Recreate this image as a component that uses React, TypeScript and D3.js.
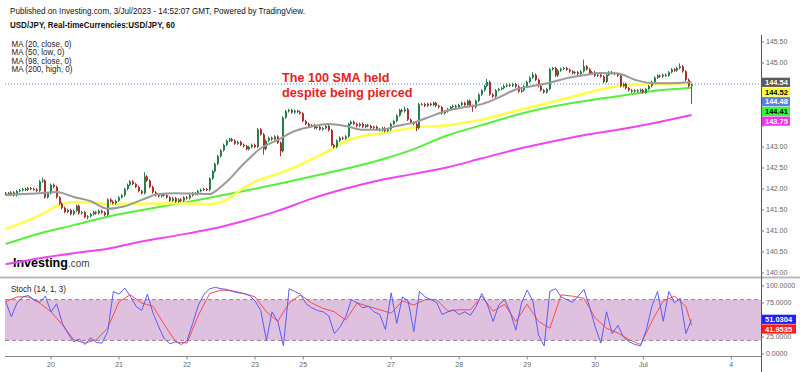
import React, { useEffect, useRef } from 'react';
import * as d3 from 'd3';

// hourly USD/JPY closes, bar 0 = Jun 19 08:00 (NY time)
const closes = [
  141.90, 141.86, 141.92, 141.85, 141.95, 141.97, 142.00, 141.98, 142.02, 142.00,
  141.99, 141.96, 142.18, 142.20, 141.80, 141.90, 142.10, 142.05, 141.80, 141.65,
  141.55, 141.45, 141.50, 141.40, 141.48, 141.60, 141.42, 141.45, 141.33, 141.35,
  141.40, 141.45, 141.42, 141.48, 141.44, 141.38, 141.75, 141.70, 141.66, 141.72,
  141.80, 141.85, 142.00, 142.10, 142.18, 142.12, 142.05, 141.95, 141.90, 142.30,
  142.20, 142.05, 141.92, 141.85, 141.83, 141.87, 141.85, 141.80, 141.72, 141.78,
  141.70, 141.75, 141.72, 141.80, 141.78, 141.85, 141.90, 141.88, 141.95, 141.98,
  142.00, 141.98, 142.25, 142.42, 142.60, 142.78, 142.92, 143.05, 143.15, 143.19,
  143.15, 143.08, 143.12, 143.05, 143.02, 142.95, 143.00, 143.05, 143.00, 143.42,
  143.30, 142.95, 143.15, 143.22, 143.18, 143.25, 143.10, 142.90, 143.70, 143.85,
  143.88, 143.82, 143.86, 143.84, 143.80, 143.62, 143.55, 143.50, 143.52, 143.45,
  143.48, 143.42, 143.45, 143.50, 143.40, 143.05, 143.00, 143.15, 143.22, 143.20,
  143.25, 143.55, 143.60, 143.55, 143.50, 143.55, 143.48, 143.52, 143.50, 143.45,
  143.48, 143.42, 143.40, 143.45, 143.38, 143.42, 143.55, 143.62, 143.75, 143.88,
  143.85, 143.90, 143.65, 143.58, 143.55, 143.45, 144.02, 144.02, 143.98, 144.03,
  144.00, 144.05, 143.98, 143.95, 143.80, 143.85, 143.90, 143.95, 143.98, 143.95,
  144.00, 144.05, 144.00, 144.10, 143.98, 143.95, 144.10, 144.25, 144.35, 144.45,
  144.55, 144.25, 144.20, 144.35, 144.38, 144.40, 144.45, 144.48, 144.46, 144.50,
  144.44, 144.32, 144.35, 144.45, 144.55, 144.65, 144.72, 144.60, 144.45, 144.35,
  144.30, 144.38, 144.85, 144.88, 144.70, 144.82, 144.86, 144.88, 144.84, 144.80,
  144.76, 144.78, 144.74, 144.80, 144.92, 144.85, 144.75, 144.78, 144.70, 144.72,
  144.68, 144.55, 144.72, 144.78, 144.76, 144.74, 144.70, 144.45, 144.50, 144.40,
  144.35, 144.32, 144.35, 144.33, 144.36, 144.30, 144.38, 144.45, 144.55, 144.65,
  144.70, 144.68, 144.72, 144.70, 144.78, 144.85, 144.82, 144.88, 144.92, 144.80,
  144.60, 144.45, 144.48,
];
const firstOpen = 141.88;
// bars with a visibly long wick: [bar, price]
const wickHighs = [[13, 142.27], [49, 142.40], [141, 143.96], [170, 144.62], [186, 144.78], [204, 145.08], [238, 144.99]];
const wickLows = [[29, 141.28], [91, 142.82], [97, 142.78], [145, 143.38], [165, 143.84], [242, 144.02]];

// moving averages at these bars
const ma20Idx = [0, 6, 12, 18, 24, 30, 36, 42, 48, 54, 60, 66, 72, 75, 78, 84, 90, 96, 102, 108, 114, 120, 126, 132, 138, 144, 150, 156, 162, 168, 174, 180, 186, 192, 198, 204, 210, 216, 222, 228, 234, 242];
const ma20Vals = [141.86, 141.88, 141.90, 141.93, 141.81, 141.71, 141.53, 141.59, 141.74, 141.88, 141.90, 141.89, 141.88, 142.00, 142.17, 142.60, 142.97, 143.17, 143.38, 143.49, 143.55, 143.50, 143.41, 143.41, 143.50, 143.58, 143.73, 143.87, 143.95, 144.02, 144.18, 144.37, 144.45, 144.53, 144.64, 144.71, 144.76, 144.75, 144.60, 144.52, 144.52, 144.54];
const ma50Idx = [0, 6, 12, 18, 24, 30, 36, 48, 60, 72, 78, 84, 90, 96, 102, 108, 114, 120, 126, 132, 138, 144, 156, 168, 180, 192, 204, 216, 228, 242];
const ma50Vals = [141.05, 141.20, 141.37, 141.59, 141.69, 141.68, 141.64, 141.65, 141.66, 141.64, 141.74, 142.03, 142.23, 142.36, 142.52, 142.71, 142.91, 143.14, 143.26, 143.32, 143.40, 143.46, 143.52, 143.65, 143.86, 144.06, 144.27, 144.45, 144.50, 144.52];
const ma98Idx = [0, 12, 24, 36, 48, 60, 72, 84, 96, 108, 120, 132, 144, 156, 168, 180, 192, 204, 216, 228, 242];
const ma98Vals = [140.69, 140.94, 141.14, 141.34, 141.50, 141.64, 141.79, 141.95, 142.12, 142.30, 142.48, 142.69, 142.95, 143.28, 143.52, 143.76, 143.95, 144.09, 144.21, 144.33, 144.41];
const ma200Idx = [0, 12, 24, 36, 48, 60, 72, 84, 96, 108, 120, 132, 144, 156, 168, 180, 192, 204, 216, 228, 242];
const ma200Vals = [140.21, 140.35, 140.47, 140.58, 140.75, 140.89, 141.04, 141.24, 141.48, 141.77, 142.01, 142.21, 142.36, 142.52, 142.73, 142.94, 143.12, 143.28, 143.41, 143.56, 143.76];

// stochastic %K every 2 bars, %D every 4 bars (+ last bar)
const stochK = [
  77, 55, 75, 84, 86, 80, 76, 85, 62, 74,
  45, 30, 18, 22, 14, 24, 17, 16, 33, 92,
  88, 97, 85, 70, 64, 88, 60, 40, 22, 15,
  18, 14, 20, 45, 72, 88, 96, 98, 96, 95,
  92, 90, 89, 86, 78, 64, 20, 62, 48, 12,
  96, 92, 88, 74, 68, 64, 62, 56, 30, 40,
  55, 80, 75, 68, 70, 62, 58, 36, 90, 45,
  84, 78, 33, 92, 84, 80, 76, 58, 62, 65,
  58, 62, 57, 70, 89, 72, 48, 72, 80, 62,
  35, 75, 94, 78, 28, 12, 92, 96, 84, 80,
  76, 85, 95, 70, 40, 16, 62, 30, 42, 25,
  18, 14, 12, 35, 70, 92, 48, 92, 75, 82,
  30, 51.03,
];
const stochD = [
  77, 84, 84, 75, 62, 43, 21, 16, 21, 38,
  77, 87, 75, 70, 43, 18, 16, 57, 89, 94,
  93, 89, 84, 62, 48, 75, 87, 75, 67, 62,
  50, 75, 70, 65, 60, 78, 72, 80, 80, 63,
  65, 65, 85, 63, 73, 48, 73, 48, 38, 87,
  85, 82, 53, 38, 31, 21, 14, 48, 78, 85,
  70, 41.95,
];

const dayLabels = ['20', '21', '22', '23', '25', '27', '28', '29', '30', 'Jul', '4'];
const dayBars = [16, 40, 64, 88, 105, 136, 160, 184, 208, 225, 256];
const stochTicks = [100, 75, 25, 0];

const lastPrice = 144.50;
const priceTags = [
  { text: '144.54', value: 144.54, bg: '#5a5a5a', fg: '#ffffff' },
  { text: '144.52', value: 144.52, bg: '#ffff3c', fg: '#000000' },
  { text: '144.48', value: 144.48, bg: '#5b7fe0', fg: '#ffffff' },
  { text: '144.41', value: 144.41, bg: '#33ff33', fg: '#000000' },
  { text: '143.75', value: 143.75, bg: '#ee33ee', fg: '#ffffff' },
];
const stochTags = [
  { text: '51.0304', value: 51.03, bg: '#1f1fff', fg: '#ffffff' },
  { text: '41.9535', value: 41.95, bg: '#ff1c1c', fg: '#ffffff' },
];

const FONT = "Arial, 'Liberation Sans', sans-serif";

export default function App() {
  const ref = useRef<SVGSVGElement>(null);

  useEffect(() => {
    const svg = d3.select(ref.current);
    svg.selectAll('*').remove();

    const x = d3.scaleLinear().domain([-2, 266.5]).range([0, 761]);
    const yP = d3.scaleLinear().domain([140, 145.5]).range([273, 42]);
    const yS = d3.scaleLinear().domain([0, 100]).range([354, 286]);
    const axisX = 761;

    const defs = svg.append('defs');
    defs.append('clipPath').attr('id', 'clipMain').append('rect')
      .attr('x', 5).attr('y', 30).attr('width', axisX - 5).attr('height', 246);
    defs.append('clipPath').attr('id', 'clipStoch').append('rect')
      .attr('x', 5).attr('y', 279).attr('width', axisX - 5).attr('height', 77);

    svg.append('rect').attr('width', 800).attr('height', 372).attr('fill', '#ffffff');

    // header texts
    svg.append('text').attr('x', 10).attr('y', 14).attr('font-size', 9).attr('fill', '#111')
      .attr('textLength', 295).attr('lengthAdjust', 'spacingAndGlyphs')
      .text('Published on Investing.com, 3/Jul/2023 - 14:52:07 GMT, Powered by TradingView.');
    svg.append('text').attr('x', 10).attr('y', 27.5).attr('font-size', 8.5).attr('font-weight', 'bold').attr('fill', '#111')
      .attr('textLength', 165).attr('lengthAdjust', 'spacingAndGlyphs')
      .text('USD/JPY, Real-timeCurrencies:USD/JPY, 60');
    const legend = ['MA (20, close, 0)', 'MA (50, low, 0)', 'MA (98, close, 0)', 'MA (200, high, 0)'];
    const legendW = [60, 53, 60, 61];
    legend.forEach((t, i) => {
      svg.append('text').attr('x', 11.5).attr('y', 46.5 + i * 8.6).attr('font-size', 8.5).attr('fill', '#222')
        .attr('textLength', legendW[i]).attr('lengthAdjust', 'spacingAndGlyphs').text(t);
    });

    // logo: one text, two spans
    const logo = svg.append('text').attr('x', 13).attr('y', 267);
    logo.append('tspan').attr('font-size', 12.5).attr('font-weight', 900).attr('fill', '#000').text('Investing');
    logo.append('tspan').attr('font-size', 10).attr('fill', '#444').text('.com');

    // price pane
    const main = svg.append('g').attr('clip-path', 'url(#clipMain)');

    main.append('line').attr('x1', 5).attr('x2', axisX).attr('y1', yP(lastPrice)).attr('y2', yP(lastPrice))
      .attr('stroke', '#5b7fe0').attr('stroke-width', 1).attr('stroke-dasharray', '1,2');

    const drawMa = (idx: number[], vals: number[], color: string, w: number) => {
      main.append('path')
        .attr('d', d3.line<number>().x((d) => x(d)).y((d, i) => yP(vals[i])).curve(d3.curveMonotoneX)(idx))
        .attr('fill', 'none').attr('stroke', color).attr('stroke-width', w);
    };
    drawMa(ma200Idx, ma200Vals, '#f044f0', 2);
    drawMa(ma98Idx, ma98Vals, '#55f03a', 2);
    drawMa(ma50Idx, ma50Vals, '#ffff4a', 2.5);

    const hiMap = new Map(wickHighs.map((d) => [d[0], d[1]]));
    const loMap = new Map(wickLows.map((d) => [d[0], d[1]]));
    const candles = main.append('g');
    closes.forEach((c, i) => {
      const o = i === 0 ? firstOpen : closes[i - 1];
      const hi = hiMap.get(i) ?? Math.max(o, c) + 0.03;
      const lo = loMap.get(i) ?? Math.min(o, c) - 0.03;
      const col = c >= o ? '#2b7d4b' : '#a8322d';
      const cx = Math.round(x(i));
      candles.append('rect').attr('x', cx - 1).attr('width', 1)
        .attr('y', yP(hi)).attr('height', yP(lo) - yP(hi)).attr('fill', col);
      const top = yP(Math.max(o, c));
      const h = Math.max(1, yP(Math.min(o, c)) - top);
      candles.append('rect').attr('x', cx - 1).attr('width', 2)
        .attr('y', top).attr('height', h).attr('fill', col);
    });

    drawMa(ma20Idx, ma20Vals, '#9a9a9a', 2);

    // annotation
    svg.append('text').attr('x', 282).attr('y', 82).attr('font-size', 13).attr('font-weight', 'bold').attr('fill', '#e8231f')
      .attr('textLength', 107.6).attr('lengthAdjust', 'spacingAndGlyphs').text('The 100 SMA held');
    svg.append('text').attr('x', 282).attr('y', 97).attr('font-size', 13).attr('font-weight', 'bold').attr('fill', '#e8231f')
      .attr('textLength', 130.6).attr('lengthAdjust', 'spacingAndGlyphs').text('despite being pierced');

    // pane separator
    svg.append('rect').attr('x', 0).attr('y', 276.5).attr('width', 800).attr('height', 2).attr('fill', '#b9b9b9');

    // stochastic pane
    const st = svg.append('g').attr('clip-path', 'url(#clipStoch)');
    st.append('rect').attr('x', 5).attr('width', axisX - 5)
      .attr('y', yS(80)).attr('height', yS(20) - yS(80)).attr('fill', '#dfc0df');
    [80, 20].forEach((v) => {
      st.append('line').attr('x1', 5).attr('x2', axisX).attr('y1', yS(v)).attr('y2', yS(v))
        .attr('stroke', '#8a8a8a').attr('stroke-width', 1).attr('stroke-dasharray', '4,3');
    });
    const kIdx = d3.range(0, 243, 2);
    const dIdx = [...d3.range(0, 241, 4), 242];
    st.append('path')
      .attr('d', d3.line<number>().x((d) => x(d)).y((d, i) => yS(stochD[i]))(dIdx))
      .attr('fill', 'none').attr('stroke', '#ff4a4a').attr('stroke-width', 1);
    st.append('path')
      .attr('d', d3.line<number>().x((d) => x(d)).y((d, i) => yS(stochK[i]))(kIdx))
      .attr('fill', 'none').attr('stroke', '#5c5cf2').attr('stroke-width', 1);

    svg.append('text').attr('x', 11).attr('y', 291.5).attr('font-size', 8.5).attr('fill', '#222')
      .attr('textLength', 55).attr('lengthAdjust', 'spacingAndGlyphs').text('Stoch (14, 1, 3)');

    // axes
    svg.append('line').attr('x1', axisX + 0.5).attr('x2', axisX + 0.5).attr('y1', 35).attr('y2', 372)
      .attr('stroke', '#555').attr('stroke-width', 1);
    svg.append('line').attr('x1', 5).attr('x2', axisX).attr('y1', 356.5).attr('y2', 356.5)
      .attr('stroke', '#888').attr('stroke-width', 1);

    // tags stack downward from the first value; ticks behind them stay unlabelled
    const tagTop = yP(priceTags[0].value) - 4.6;
    const tagBottom = yP(priceTags[0].value) + 9.7 * (priceTags.length - 1) + 4.6;
    const priceTicks = yP.ticks(11);
    priceTicks.forEach((p) => {
      svg.append('line').attr('x1', axisX).attr('x2', axisX + 3).attr('y1', yP(p)).attr('y2', yP(p)).attr('stroke', '#777');
      if (yP(p) > tagTop - 4 && yP(p) < tagBottom + 4) return;
      svg.append('text').attr('x', axisX + 5).attr('y', yP(p)).attr('dy', '0.35em').attr('font-size', 7).attr('fill', '#666')
        .text(d3.format('.2f')(p));
    });
    stochTicks.forEach((v) => {
      svg.append('line').attr('x1', axisX).attr('x2', axisX + 3).attr('y1', yS(v)).attr('y2', yS(v)).attr('stroke', '#777');
      svg.append('text').attr('x', axisX + 5).attr('y', yS(v)).attr('dy', '0.35em').attr('font-size', 7).attr('fill', '#666')
        .text(d3.format('.4f')(v));
    });
    dayLabels.forEach((t, i) => {
      const px = x(dayBars[i]);
      svg.append('line').attr('x1', px).attr('x2', px).attr('y1', 357).attr('y2', 359.5).attr('stroke', '#888');
      svg.append('text').attr('x', px).attr('y', 366.5).attr('text-anchor', 'middle').attr('font-size', 7).attr('fill', '#666').text(t);
    });

    // last value tags
    const drawTags = (tags: typeof priceTags, scale: d3.ScaleLinear<number, number>, w: number) => {
      let prev = -Infinity;
      tags.forEach((t) => {
        const cy = Math.max(scale(t.value), prev + 9.7);
        prev = cy;
        svg.append('rect').attr('x', axisX + 1).attr('y', cy - 4.6).attr('width', w).attr('height', 9.2).attr('fill', t.bg);
        svg.append('text').attr('x', axisX + 4).attr('y', cy).attr('dy', '0.35em').attr('font-size', 7.5)
          .attr('font-weight', 'bold').attr('fill', t.fg).text(t.text);
      });
    };
    drawTags(priceTags, yP, 28);
    drawTags(stochTags, yS, 34);
  }, []);

  return (
    <svg ref={ref} width={800} height={372} style={{ position: 'absolute', left: 0, top: 0, fontFamily: FONT }} />
  );
}
